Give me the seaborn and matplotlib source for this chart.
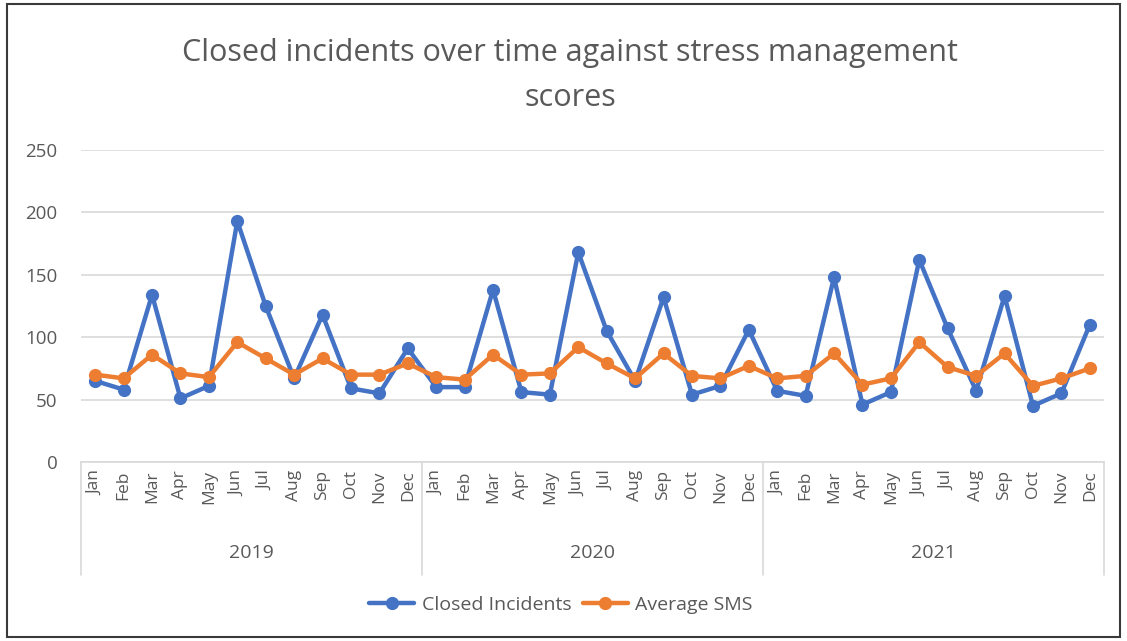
import numpy as np
import pandas as pd
import matplotlib
matplotlib.use("Agg")
import matplotlib.pyplot as plt
import matplotlib.transforms as mtransforms
from matplotlib.patches import Rectangle
import seaborn as sns

# Dados (jan/2019 a dez/2021)
months = ["Jan", "Feb", "Mar", "Apr", "May", "Jun",
          "Jul", "Aug", "Sep", "Oct", "Nov", "Dec"]
years = ["2019", "2020", "2021"]

closed_incidents = [65, 58, 134, 51, 61, 193, 125, 67, 118, 59, 55, 91,
                    60, 60, 138, 56, 54, 168, 105, 65, 132, 54, 61, 106,
                    57, 53, 148, 46, 56, 162, 107, 57, 133, 45, 55, 110]
average_sms = [70, 67, 86, 71, 68, 96, 83, 70, 83, 70, 70, 79,
               68, 66, 86, 70, 71, 92, 79, 67, 87, 69, 67, 77,
               67, 69, 87, 62, 67, 96, 76, 69, 87, 61, 67, 75]

series_names = ["Closed Incidents", "Average SMS"]
colors = ["#4472C4", "#ED7D31"]

n = len(closed_incidents)
df = pd.DataFrame({
    "idx": list(range(n)) * 2,
    "valor": closed_incidents + average_sms,
    "serie": [series_names[0]] * n + [series_names[1]] * n,
})

sns.set_style("white")
plt.rcParams["font.family"] = ["Open Sans", "DejaVu Sans"]
grey = "#595959"

fig = plt.figure(figsize=(11.27, 6.41), dpi=100)
ax = fig.add_axes([81 / 1127, 1 - 462 / 641, (1104 - 81) / 1127, 312 / 641])

sns.lineplot(data=df, x="idx", y="valor", hue="serie", palette=colors,
             marker="o", markersize=9.5, markeredgewidth=0, linewidth=3.2,
             legend=False, ax=ax)

ax.set_xlim(-0.5, n - 0.5)
ax.set_ylim(0, 250)
ax.set_yticks(range(0, 251, 50))
ax.yaxis.grid(True, color="#D9D9D9", linewidth=1.2)
ax.set_axisbelow(True)
for s in ["top", "right", "left"]:
    ax.spines[s].set_visible(False)
ax.spines["bottom"].set_color("#D9D9D9")
ax.spines["bottom"].set_linewidth(1.2)
ax.set_xlabel("")
ax.set_ylabel("")

ax.set_xticks(range(n))
ax.set_xticklabels(months * len(years), rotation=90, fontsize=12.5, color=grey)
ax.tick_params(axis="x", length=0, pad=6)
ax.tick_params(axis="y", length=0, pad=17, labelsize=13.5, labelcolor=grey)

# Eixo de categorias em dois níveis (anos)
trans = mtransforms.blended_transform_factory(ax.transData, ax.transAxes)
for i, yr in enumerate(years):
    ax.text(i * 12 + 5.5, -0.292, yr, transform=trans, ha="center",
            va="center", fontsize=14, color=grey)
for b in [-0.5, 11.5, 23.5, 35.5]:
    ax.plot([b, b], [0, -0.362], transform=trans, color="#D9D9D9",
            linewidth=1.2, clip_on=False)

# Título
fig.text(570 / 1127, 1 - 53 / 641,
         "Closed incidents over time against stress management",
         ha="center", va="center", fontsize=22, color=grey)
fig.text(570 / 1127, 1 - 98 / 641, "scores",
         ha="center", va="center", fontsize=22, color=grey)

# Legenda
handles = [plt.Line2D([], [], color=c, marker="o", markersize=9.5,
                      markeredgewidth=0, linewidth=3.2) for c in colors]
fig.legend(handles, series_names, loc="center", ncol=2,
           bbox_to_anchor=(561 / 1127, 1 - 605 / 641), frameon=False,
           fontsize=14, labelcolor=grey, handlelength=2.3, columnspacing=0.6,
           handletextpad=0.4)

# Borda da área do gráfico
fig.patches.append(Rectangle((7 / 1127, 1 - 637 / 641), 1113 / 1127, 633 / 641,
                             transform=fig.transFigure, fill=False,
                             edgecolor="#3a3a3a", linewidth=1.5))

fig.savefig("out.png", dpi=100)
